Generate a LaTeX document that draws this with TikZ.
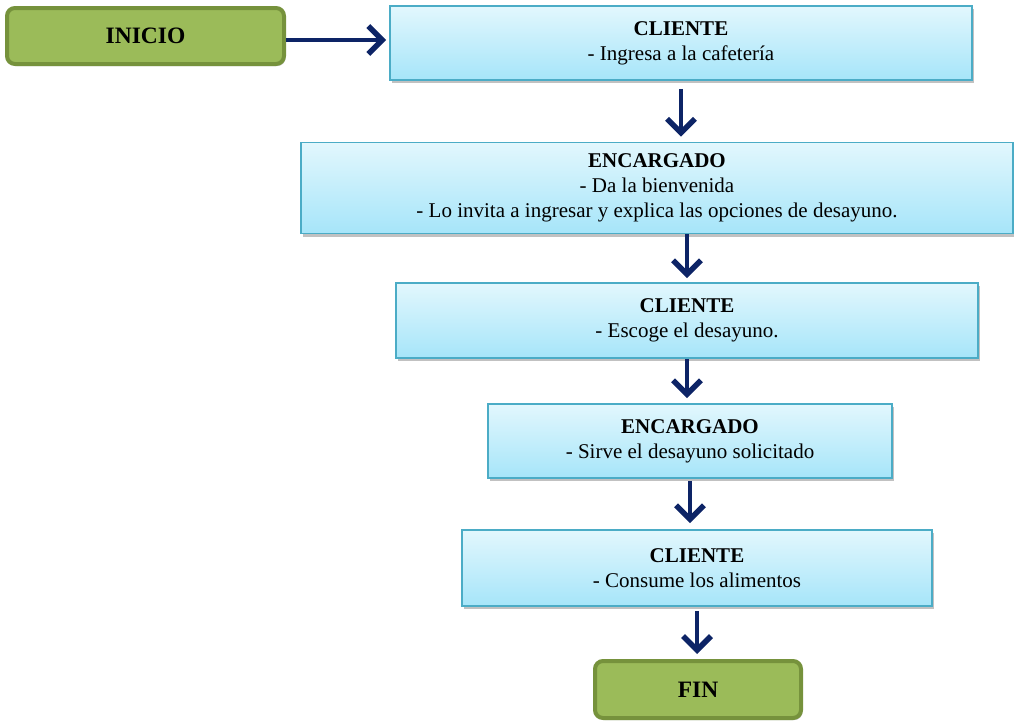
\documentclass[tikz,border=0pt]{standalone}
\usepackage{fontspec}
\setmainfont{Liberation Serif}
\usetikzlibrary{arrows.meta,shadows}
\definecolor{flowarrow}{HTML}{0D2466}
\definecolor{boxedge}{HTML}{4BACC6}
\definecolor{boxtop}{HTML}{E2F7FD}
\definecolor{boxbottom}{HTML}{A6E5F9}
\definecolor{termfill}{HTML}{9BBB59}
\definecolor{termedge}{HTML}{76923C}
\newcommand\hdrfont{\fontsize{21}{25}\selectfont\bfseries}
\tikzset{
  stepbox/.style={draw=boxedge, line width=1.6pt, top color=boxtop, bottom color=boxbottom,
    align=center, inner sep=0pt, font=\fontsize{21}{25}\selectfont,
    drop shadow={shadow xshift=2pt, shadow yshift=-3pt, opacity=0.35, fill=black!70}},
  termbox/.style={draw=termedge, line width=4pt, fill=termfill, rounded corners=8pt,
    inner sep=0pt, font=\fontsize{23.5}{28}\selectfont\bfseries,
    drop shadow={shadow xshift=1.5pt, shadow yshift=-2pt, opacity=0.3, fill=black!70}},
  flow/.style={draw=flowarrow, line width=4.5pt,
    -{Straight Barb[length=14pt, width=28pt, line width=5.5pt]}}
}
\begin{document}
\begin{tikzpicture}[x=1pt, y=-1pt]
\useasboundingbox (0,0) rectangle (1014,720);

% terminals
\node[termbox, minimum width=277, minimum height=56] (inicio) at (145.5,36) {INICIO};
\node[termbox, minimum width=206, minimum height=57] (fin) at (698,689.5) {FIN};

% process steps
\node[stepbox, minimum width=582, minimum height=74] (cl1) at (681,43)
  {{\hdrfont CLIENTE}\\- Ingresa a la cafetería};
\node[stepbox, minimum width=712, minimum height=91] (enc1) at (657,188)
  {{\hdrfont ENCARGADO}\\- Da la bienvenida\\- Lo invita a ingresar y explica las opciones de desayuno.};
\node[stepbox, minimum width=582, minimum height=75] (cl2) at (687,320.5)
  {{\hdrfont CLIENTE}\\- Escoge el desayuno.};
\node[stepbox, minimum width=404, minimum height=74] (enc2) at (690,441)
  {{\hdrfont ENCARGADO}\\- Sirve el desayuno solicitado};
\node[stepbox, minimum width=470, minimum height=76] (cl3) at (697,568)
  {{\hdrfont CLIENTE}\\- Consume los alimentos};

% connectors
\draw[flow, shorten >=3pt] ([yshift=-4pt]inicio.east) -- ([yshift=-4pt]inicio.east -| cl1.west);
\draw[flow, shorten <=8pt, shorten >=5pt] (cl1.south) -- (cl1.south |- enc1.north);
\draw[flow, shorten >=4pt] (enc1.south -| cl2.north) -- (cl2.north);
\draw[flow, shorten >=5pt] (cl2.south) -- (cl2.south |- enc2.north);
\draw[flow, shorten <=2pt, shorten >=6pt] (enc2.south) -- (enc2.south |- cl3.north);
\draw[flow, shorten <=4pt, shorten >=5pt] (cl3.south) -- (cl3.south |- fin.north);
\end{tikzpicture}
\end{document}
